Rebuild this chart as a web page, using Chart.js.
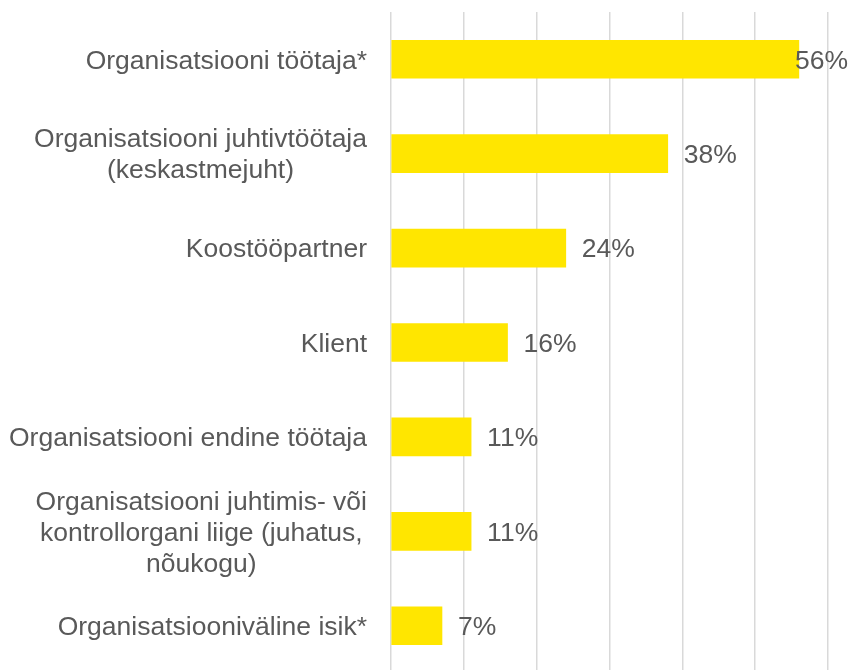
<!DOCTYPE html>
<html>
<head>
<meta charset="utf-8">
<script src="https://cdn.jsdelivr.net/npm/chart.js@4"></script>
<style>
  html, body { margin: 0; padding: 0; background: #fff; overflow: hidden; }
  #wrap { width: 852px; height: 673px; }
</style>
</head>
<body>
<div id="wrap"><canvas id="chart"></canvas></div>
<script>
// Categories (multi-line labels as arrays)
const categories = [
    ['Organisatsiooni töötaja*'],
    ['Organisatsiooni juhtivtöötaja', '(keskastmejuht)'],
    ['Koostööpartner'],
    ['Klient'],
    ['Organisatsiooni endine töötaja'],
    ['Organisatsiooni juhtimis- või', 'kontrollorgani liige (juhatus,', 'nõukogu)'],
    ['Organisatsiooniväline isik*']
];
const values = [56, 38, 24, 16, 11, 11, 7];
const xMin = 0;
const xMax = 60;
const xStep = 10;

const FONT = "'Liberation Sans', Arial, sans-serif";
const FONT_SIZE = 26.5;
const TEXT_COLOR = '#595959';

// Draw the category labels: lines centred on each other, block right-aligned to the axis
const categoryLabels = {
    id: 'categoryLabels',
    afterDraw(chart) {
        const ctx = chart.ctx;
        const yScale = chart.scales.y;
        const right = chart.chartArea.left - 24;
        const lineH = 31;
        ctx.save();
        ctx.font = FONT_SIZE + 'px ' + FONT;
        ctx.fillStyle = TEXT_COLOR;
        ctx.textAlign = 'center';
        ctx.textBaseline = 'middle';
        categories.forEach((lines, i) => {
            const y = yScale.getPixelForValue(i) + 2;
            const maxW = Math.max(...lines.map(l => ctx.measureText(l).width));
            const cx = right - maxW / 2;
            const top = y - (lines.length - 1) * lineH / 2;
            lines.forEach((l, j) => ctx.fillText(l, cx, top + j * lineH));
        });
        ctx.restore();
    }
};

// Value labels just after the bar end, kept inside the canvas
const valueLabels = {
    id: 'valueLabels',
    afterDatasetsDraw(chart) {
        const ctx = chart.ctx;
        const meta = chart.getDatasetMeta(0);
        ctx.save();
        ctx.font = FONT_SIZE + 'px ' + FONT;
        ctx.fillStyle = TEXT_COLOR;
        ctx.textAlign = 'left';
        ctx.textBaseline = 'middle';
        meta.data.forEach((bar, i) => {
            const txt = values[i] + '%';
            const w = ctx.measureText(txt).width;
            const x = Math.min(bar.x + 16, chart.width - 4 - w);
            ctx.fillText(txt, x, bar.y + 2);
        });
        ctx.restore();
    }
};

const ctx = document.getElementById('chart').getContext('2d');
new Chart(ctx, {
    type: 'bar',
    data: {
        labels: categories.map(c => c.join(' ')),
        datasets: [{
            data: values,
            backgroundColor: '#FFE600',
            borderWidth: 0,
            barThickness: 38
        }]
    },
    options: {
        indexAxis: 'y',
        responsive: true,
        maintainAspectRatio: false,
        animation: false,
        layout: { padding: { top: 12, right: 24, bottom: 0, left: 0 } },
        plugins: {
            legend: { display: false },
            tooltip: { enabled: false }
        },
        scales: {
            x: {
                min: xMin,
                max: xMax,
                ticks: { display: false, stepSize: xStep },
                grid: { color: '#d9d9d9', lineWidth: 1.5, drawTicks: false },
                border: { display: false }
            },
            y: {
                ticks: { display: false },
                grid: { display: false },
                border: { display: false },
                afterFit(scale) { scale.width = 391; }
            }
        }
    },
    plugins: [categoryLabels, valueLabels]
});
</script>
</body>
</html>
